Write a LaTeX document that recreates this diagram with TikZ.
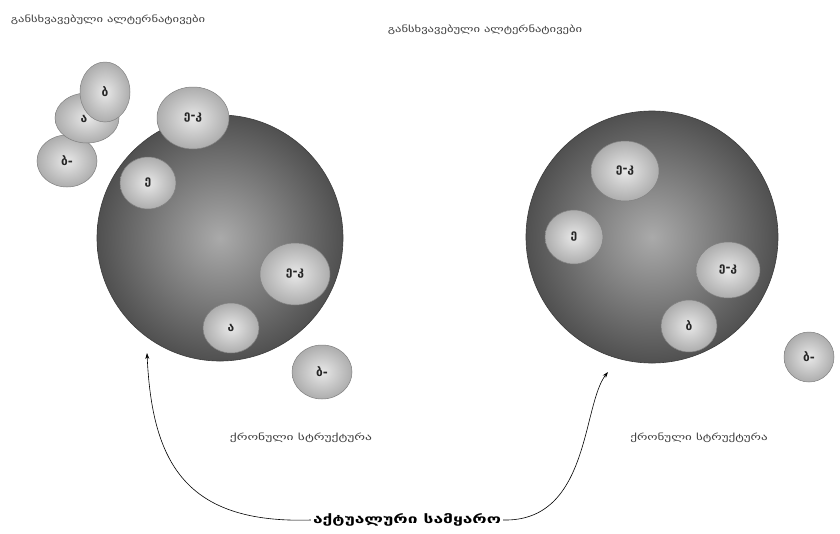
\documentclass[tikz,border=0pt]{standalone}
\usepackage{fontspec}
\setmainfont{DejaVu Sans}
\newfontfamily\geo{DejaVu Sans}
\usetikzlibrary{shapes.geometric,arrows.meta}
\definecolor{sphedge}{HTML}{505050}
\definecolor{sphmid}{HTML}{AAAAAA}
\definecolor{sphline}{HTML}{3C3C3C}
\definecolor{bubin}{HTML}{E8E8E8}
\definecolor{bubout}{HTML}{ADADAD}
\definecolor{bubline}{HTML}{808080}
\tikzset{
  sphere/.style={circle, inner sep=0pt, draw=sphline, line width=0.6pt,
    inner color=sphmid, outer color=sphedge},
  bub/.style={ellipse, inner sep=0pt, draw=bubline, line width=0.5pt,
    inner color=bubin, outer color=bubout, font=\geo\fontsize{12}{13}\selectfont\bfseries, text=black!85},
  lbl/.style={inner sep=0pt, font=\geo\fontsize{9}{10}\selectfont, text=black!75},
  conn/.style={-{Stealth[length=6pt,width=4pt]}, line width=0.6pt, black}
}
\begin{document}
\begin{tikzpicture}[x=1pt,y=-1pt]
\useasboundingbox[fill=white] (0,0) rectangle (840,533);
% spheres
\node[sphere, minimum size=246pt] (S1) at (220,238) {};
\node[sphere, minimum size=252pt] (S2) at (652,237) {};
% left world bubbles
\node[bub, minimum width=60pt, minimum height=52pt] (L1) at (67,161) {ბ-};
\node[bub, minimum width=64pt, minimum height=50pt] (L2) at (87,118) {\hspace*{-6pt}\raisebox{-9pt}{ა}};
\node[bub, minimum width=50pt, minimum height=60pt] (L3) at (105,92) {ბ};
\node[bub, minimum width=72pt, minimum height=62pt] (L4) at (193,118) {ე-კ};
\node[bub, minimum width=56pt, minimum height=52pt] (L5) at (148,183) {ე};
\node[bub, minimum width=70pt, minimum height=62pt] (L6) at (295,274) {ე-კ};
\node[bub, minimum width=56pt, minimum height=50pt] (L7) at (231,328) {ა};
\node[bub, minimum width=60pt, minimum height=54pt] (L8) at (322,372) {ბ-};
% right world bubbles
\node[bub, minimum width=68pt, minimum height=60pt] (R1) at (625,171) {ე-კ};
\node[bub, minimum width=58pt, minimum height=54pt] (R2) at (574,237) {ე};
\node[bub, minimum width=64pt, minimum height=56pt] (R3) at (728,270) {ე-კ};
\node[bub, minimum width=56pt, minimum height=52pt] (R4) at (689,326) {ბ};
\node[bub, minimum width=50pt, minimum height=50pt] (R5) at (809,357) {ბ-};
% labels
\node[lbl] (T1) at (108,20) {\scalebox{1.4}[1]{განსხვავებული ალტერნატივები}};
\node[lbl] (T2) at (485,30) {\scalebox{1.4}[1]{განსხვავებული ალტერნატივები}};
\node[lbl] (C1) at (301,438) {\scalebox{1.5}[1]{ქრონული სტრუქტურა}};
\node[lbl] (C2) at (699,438) {\scalebox{1.45}[1]{ქრონული სტრუქტურა}};
\node[inner sep=2pt, font=\geo\fontsize{12}{14}\selectfont\bfseries] (A) at (407,520) {\scalebox{1.45}[1]{აქტუალური სამყარო}};
% arrow ends
\coordinate (E1) at (147,353);
\coordinate (E2) at (608,372);
\draw[conn] (A.west) .. controls (185,524) and (152,462) .. (E1);
\draw[conn] (A.east) .. controls (590,522) and (582,405) .. (E2);
\end{tikzpicture}
\end{document}
